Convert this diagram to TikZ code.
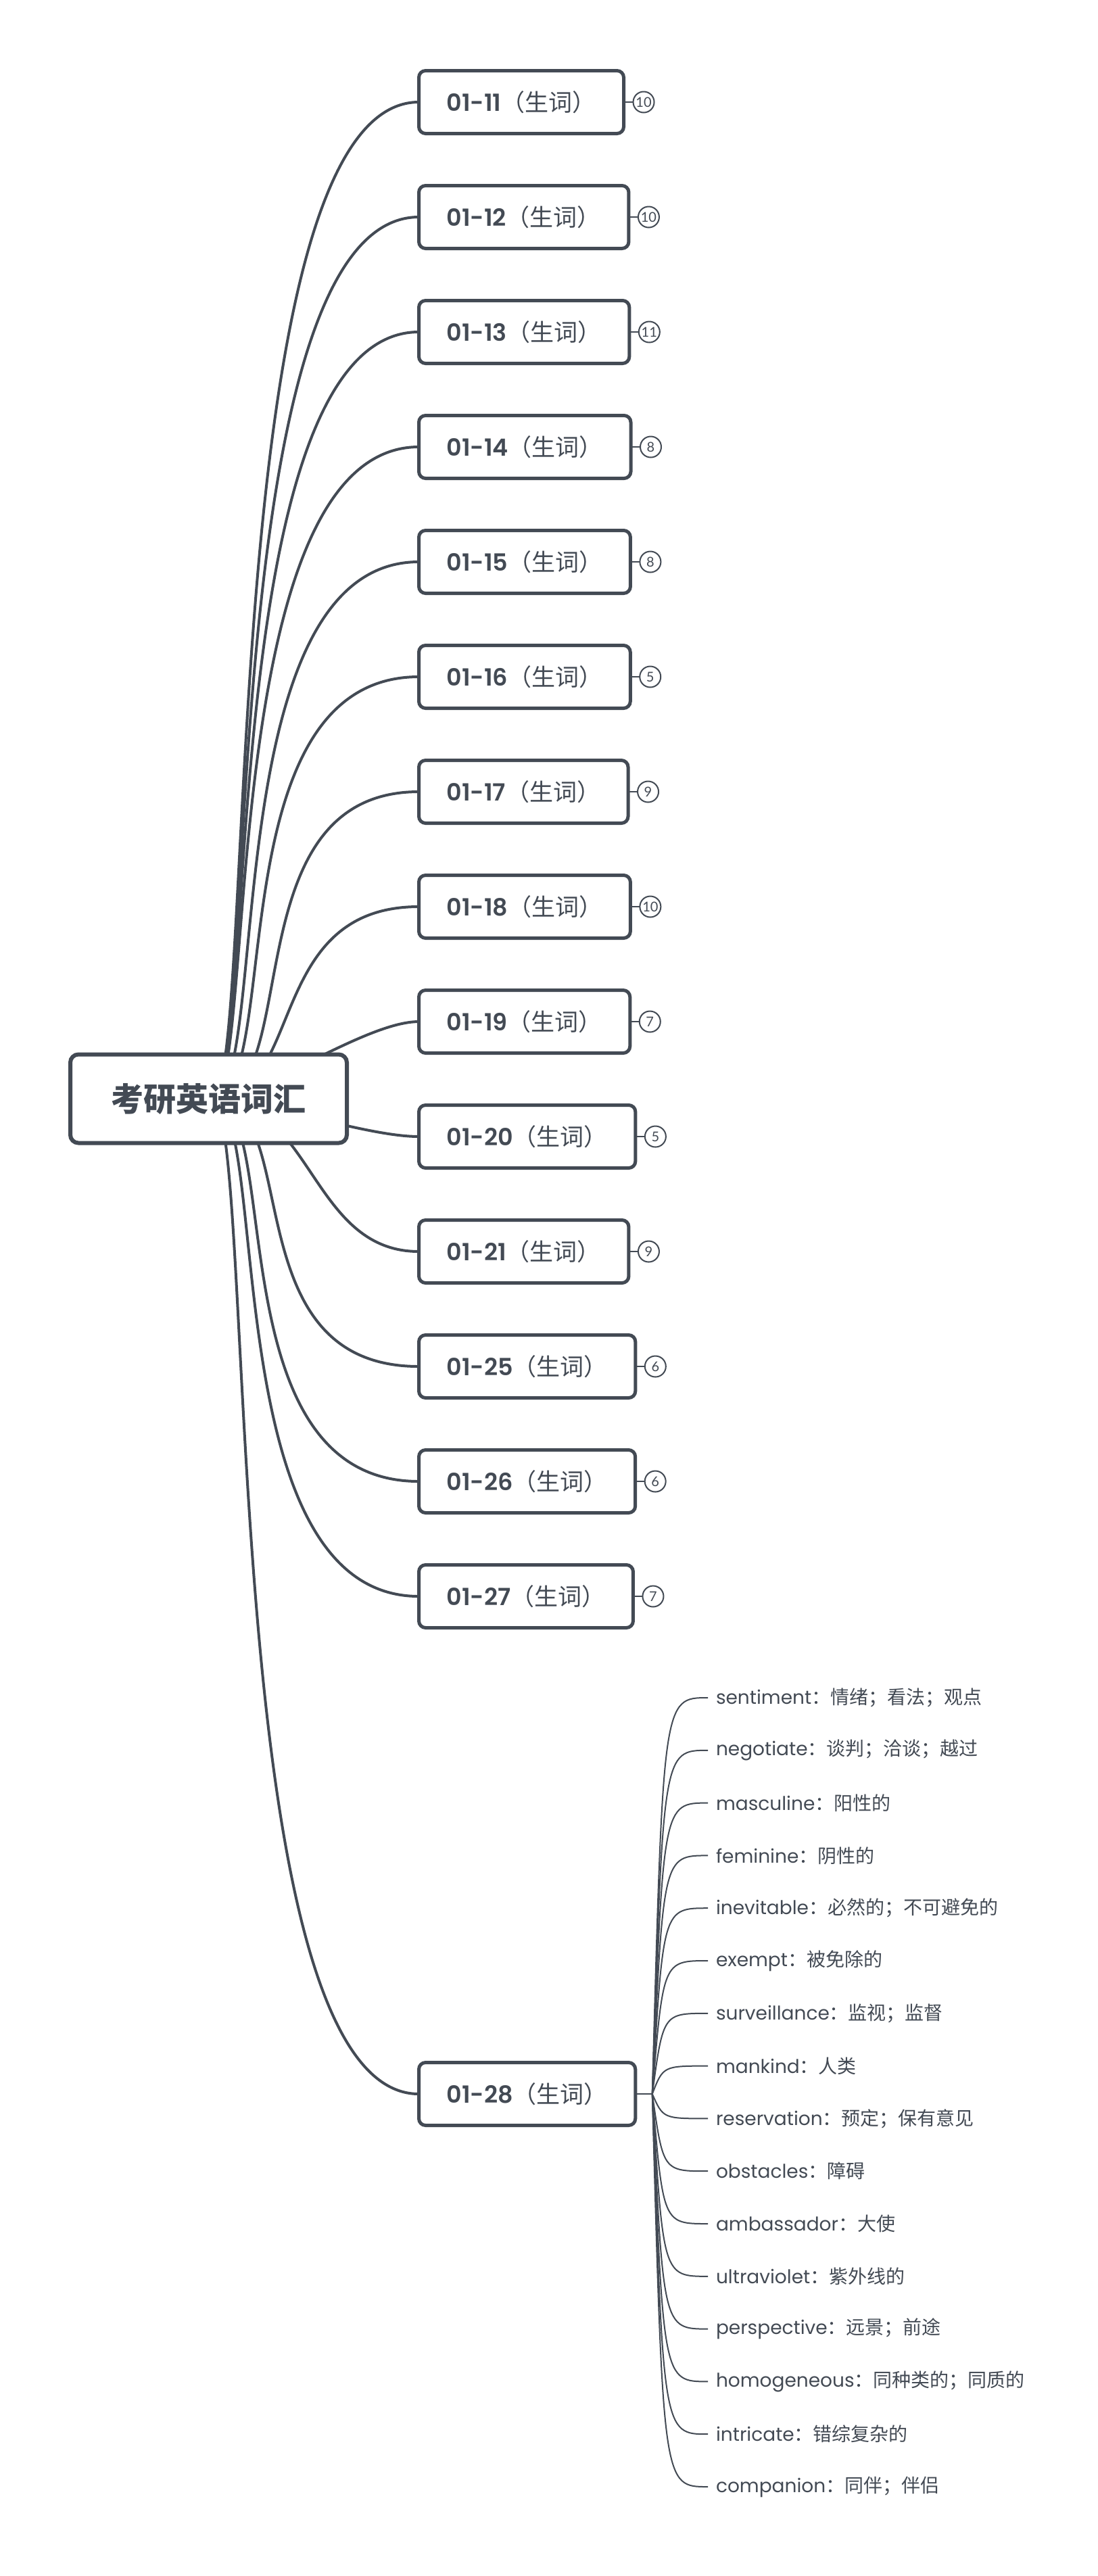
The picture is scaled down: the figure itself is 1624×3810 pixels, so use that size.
\documentclass[tikz,border=0pt]{standalone}
\usepackage{fontspec}
\usetikzlibrary{calc,backgrounds}
\pgfdeclarelayer{paper}
\pgfsetlayers{paper,background,main}

\newfontfamily\cjk{Noto Sans CJK SC}
\IfFontExistsTF{Poppins SemiBold}{\newfontfamily\brlat{Poppins SemiBold}}{\newfontfamily\brlat{Poppins}}
\newfontfamily\lflat{Poppins}
\newfontfamily\cntfont{Lato}
\definecolor{slate}{HTML}{434A54}

\newcommand\brtext[1]{{\brlat #1}{\cjk （生词）}}
\newcommand\leaftext[2]{{\lflat #1}{\cjk ：#2}}

\tikzset{
  rootbox/.style={draw=slate, line width=6pt, rounded corners=12pt, fill=white,
    minimum width=409pt, minimum height=131pt, inner sep=0pt, outer sep=0pt,
    text=slate, font=\cjk\bfseries\fontsize{48}{56}\selectfont},
  branchbox/.style={draw=slate, line width=5pt, rounded corners=10pt, fill=white,
    minimum height=93pt, inner xsep=41pt, inner ysep=0pt, outer sep=0pt,
    anchor=west, text=slate, font=\fontsize{35}{41}\selectfont},
  badge/.style={circle, draw=slate, line width=2pt, minimum size=31pt,
    inner sep=0pt, outer sep=0pt, fill=white, text=slate,
    font=\cntfont\fontsize{20}{24}\selectfont},
  leaf/.style={anchor=west, inner xsep=12pt, inner ysep=0pt, outer sep=0pt,
    text=slate, font=\fontsize{28}{34}\selectfont},
  trunk/.style={draw=slate, line width=4pt},
  twig/.style={draw=slate, line width=2pt},
}

\begin{document}
\begin{tikzpicture}[x=1pt,y=-1pt]
\begin{pgfonlayer}{paper}
  \fill[white] (0,0) rectangle (1624,3810);
\end{pgfonlayer}
\useasboundingbox (0,0) rectangle (1624,3810);

% central topic
\node[rootbox] (root) at (308.5,1625) {考研英语词汇};
\coordinate (hub) at ($(root.center)+(4,0)$);

% dated word lists with their word counts; A and B set how far the
% curve's two handles reach from the hub and from the list box
\foreach \lab/\y/\cnt/\A/\B [count=\i] in {
  01-11/151/10/70/305,  01-12/321/10/70/305,  01-13/491/11/70/305,
  01-14/661/8/70/305,   01-15/831/8/90/305,   01-16/1001/5/110/305,
  01-17/1171/9/140/280, 01-18/1341/10/140/230, 01-19/1511/7/70/80,
  01-20/1681/5/70/80,   01-21/1851/9/150/160, 01-25/2021/6/140/280,
  01-26/2191/6/110/305, 01-27/2361/7/90/305} {
  \node[branchbox] (b\i) at (619.5,\y) {\brtext{\lab}};
  \node[badge] (n\i) at ($(b\i.east)+(29.5,0)$) {\cnt};
  \draw[twig] (b\i.east) -- (n\i.west);
  \begin{scope}[on background layer]
    \draw[trunk] (hub) .. controls ($(hub)+(\A,0)$) and ($(b\i.west)+(-\B,0)$) .. (b\i.west);
  \end{scope}
}

% the expanded list
\node[branchbox] (w28) at (619.5,3097) {\brtext{01-28}};
\begin{scope}[on background layer]
  \draw[trunk] (hub) .. controls ($(hub)+(70,0)$) and ($(w28.west)+(-305,0)$) .. (w28.west);
\end{scope}
\coordinate (fork) at ($(w28.east)+(25,0)$);
\draw[twig] (w28.east) -- (fork);

\foreach \w/\m [count=\j from 0] in {
  sentiment/情绪；看法；观点, negotiate/谈判；洽谈；越过, masculine/阳性的,
  feminine/阴性的, inevitable/必然的；不可避免的, exempt/被免除的,
  surveillance/监视；监督, mankind/人类, reservation/预定；保有意见,
  obstacles/障碍, ambassador/大使, ultraviolet/紫外线的,
  perspective/远景；前途, homogeneous/同种类的；同质的,
  intricate/错综复杂的, companion/同伴；伴侣} {
  \node[leaf] (l\j) at (1047,2511+77.8*\j) {\leaftext{\w}{\m}};
  \draw[twig] (fork) .. controls ($(fork|-l\j.west)+(16,0)$) and ($(fork|-l\j.west)+(16,0)$) .. (l\j.west);
}
\end{tikzpicture}
\end{document}
